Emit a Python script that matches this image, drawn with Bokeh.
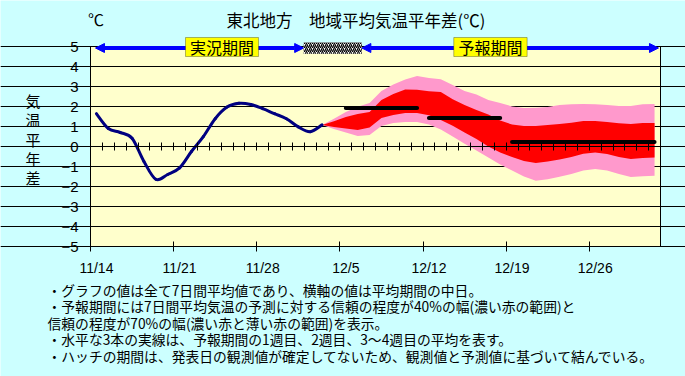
from bokeh.plotting import figure
from bokeh.models import (FixedTicker, LinearAxis, Label, BoxAnnotation, Arrow,
                          NormalHead, Range1d, Grid)
from bokeh.embed import file_html
from bokeh.resources import INLINE

# ---------------- data ----------------
label_days = [0, 7, 14, 21, 28, 35, 42]
date_labels = ["11/14", "11/21", "11/28", "12/5", "12/12", "12/19", "12/26"]

obs_days = list(range(0, 20))
obs_vals = [1.64, 0.90, 0.70, 0.41, -0.75, -1.64, -1.40, -1.07, -0.25, 0.49,
            1.39, 1.97, 2.16, 2.10, 1.89, 1.64, 1.39, 0.98, 0.74, 1.08]

fc_days = list(range(19, 48))
pink_up = [1.08, 1.39, 1.72, 1.99, 2.17, 2.78, 3.10, 3.35, 3.52, 3.42, 3.36, 3.08,
           2.78, 2.60, 2.32, 2.18, 2.00, 1.93, 1.94, 1.98, 2.07, 2.11, 2.12, 2.11,
           2.07, 2.03, 2.03, 2.11, 2.12]
red_up = [1.08, 1.26, 1.47, 1.62, 1.72, 2.32, 2.63, 2.85, 2.84, 2.76, 2.72, 2.36,
          2.08, 1.83, 1.60, 1.30, 1.10, 1.02, 1.02, 1.07, 1.12, 1.19, 1.28, 1.28,
          1.23, 1.16, 1.12, 1.18, 1.18]
red_lo = [1.08, 0.98, 0.90, 0.83, 0.95, 1.42, 1.58, 1.67, 1.68, 1.56, 1.32, 1.04,
          0.70, 0.38, 0.00, -0.30, -0.53, -0.73, -0.83, -0.75, -0.65, -0.52, -0.36,
          -0.30, -0.38, -0.52, -0.63, -0.57, -0.55]
pink_lo = [1.08, 0.87, 0.70, 0.53, 0.58, 1.03, 1.17, 1.23, 1.23, 1.10, 0.85, 0.50,
           0.14, -0.20, -0.55, -0.90, -1.20, -1.50, -1.71, -1.64, -1.51, -1.37, -1.20,
           -1.12, -1.20, -1.37, -1.53, -1.49, -1.46]

week_start = [21, 28, 35]
week_end = [27, 34, 47]
week_mean = [1.93, 1.43, 0.22]

y_ticks = list(range(-5, 6))
obs_period = (-0.08, 17.45)
hatch_period = (17.45, 22.35)
fc_period = (22.35, 47.33)

title_text = "東北地方　地域平均気温平年差(℃)"
unit_text = "℃"
ylabel_chars = list("気温平年差")
notes = [
    "・グラフの値は全て7日間平均値であり、横軸の値は平均期間の中日。",
    "・予報期間には7日間平均気温の予測に対する信頼の程度が40%の幅(濃い赤の範囲)と",
    "信頼の程度が70%の幅(濃い赤と薄い赤の範囲)を表示。",
    "・水平な3本の実線は、予報期間の1週目、2週目、3～4週目の平均を表す。",
    "・ハッチの期間は、発表日の観測値が確定してないため、観測値と予測値に基づいて結んでいる。",
]

# ---------------- figure ----------------
JP = "Noto Sans CJK JP"
n_days = 48
X0, X1 = -0.5, n_days - 0.5
Y0, Y1 = -5, 5
# the frame fills the whole canvas; the plot area is the box (X0..X1, Y0..Y1)
ppx = 570 / (X1 - X0)
ppy = 200 / (Y1 - Y0)
p = figure(width=685, height=376,
           x_range=Range1d(X0 - 90 / ppx, X1 + 25 / ppx),
           y_range=Range1d(Y0 - 130 / ppy, Y1 + 46 / ppy),
           output_backend="svg", toolbar_location=None,
           x_axis_location=None, y_axis_location=None, min_border=0)
p.background_fill_color = "#ccffff"
p.border_fill_color = "#ccffff"
p.outline_line_color = None
for r in list(p.center):
    if isinstance(r, Grid):
        r.visible = False

p.add_layout(BoxAnnotation(left=X0, right=X1, bottom=Y0, top=Y1,
                           fill_color="#ffffcc", fill_alpha=1, line_color=None,
                           level="underlay"))
p.add_layout(Grid(dimension=1, ticker=FixedTicker(ticks=y_ticks), bounds=(X0, X1),
                  grid_line_color="black", grid_line_width=1))

yaxis = LinearAxis(ticker=FixedTicker(ticks=y_ticks), fixed_location=X0,
                   bounds=(Y0, Y1))
yaxis.major_label_overrides = {t: (("−" + str(-t)) if t < 0 else str(t)) for t in y_ticks}
yaxis.major_tick_in = 0
yaxis.major_tick_out = 0
yaxis.minor_tick_line_color = None
yaxis.axis_line_color = "black"
yaxis.major_label_standoff = 12
yaxis.major_label_text_font = "Liberation Sans"
yaxis.major_label_text_font_size = "15px"
yaxis.major_label_text_color = "black"
p.add_layout(yaxis, "left")

raxis = LinearAxis(ticker=FixedTicker(ticks=[]), fixed_location=X1, bounds=(Y0, Y1))
raxis.major_tick_line_color = None
raxis.minor_tick_line_color = None
raxis.axis_line_color = "black"
p.add_layout(raxis, "right")

bounds = [d - 0.5 for d in label_days]
xt = LinearAxis(ticker=FixedTicker(ticks=bounds), fixed_location=Y0, bounds=(X0, X1))
xt.major_label_overrides = {b: "" for b in bounds}
xt.major_tick_in = 5
xt.major_tick_out = 5
xt.major_tick_line_color = "black"
xt.minor_tick_line_color = None
xt.axis_line_color = "black"
p.add_layout(xt, "below")

xl = LinearAxis(ticker=FixedTicker(ticks=label_days), fixed_location=Y0)
xl.major_label_overrides = {d: s for d, s in zip(label_days, date_labels)}
xl.axis_line_color = None
xl.major_tick_line_color = None
xl.minor_tick_line_color = None
xl.major_tick_out = 0
xl.major_tick_in = 0
xl.major_label_standoff = 13
xl.major_label_text_font = "Liberation Sans"
xl.major_label_text_font_size = "14px"
xl.major_label_text_color = "black"
p.add_layout(xl, "below")

# bands
p.varea(x=fc_days, y1=pink_lo, y2=pink_up, fill_color="#ff99cc")
p.varea(x=fc_days, y1=red_lo, y2=red_up, fill_color="#ff0000")

# observed line, drawn as a smoothed curve through the daily points
n = len(obs_days)
px = [obs_days[0]] + obs_days + [obs_days[-1]]
py = [obs_vals[0]] + obs_vals + [obs_vals[-1]]
bx0, by0, bx1, by1, c0x, c0y, c1x, c1y = ([] for _ in range(8))
for i in range(n - 1):
    j = i + 1
    bx0.append(px[j]); by0.append(py[j])
    bx1.append(px[j + 1]); by1.append(py[j + 1])
    c0x.append(px[j] + (px[j + 1] - px[j - 1]) / 6)
    c0y.append(py[j] + (py[j + 1] - py[j - 1]) / 6)
    c1x.append(px[j + 1] - (px[j + 2] - px[j]) / 6)
    c1y.append(py[j + 1] - (py[j + 2] - py[j]) / 6)
p.bezier(x0=bx0, y0=by0, x1=bx1, y1=by1, cx0=c0x, cy0=c0y, cx1=c1x, cy1=c1y,
         line_color="#000080", line_width=3, line_cap="round")

# weekly means
p.segment(x0=week_start, x1=week_end, y0=week_mean, y1=week_mean,
          line_color="black", line_width=4, line_cap="round")

# zero axis with a tick at every day boundary
day_bounds = [d + 0.5 for d in range(n_days - 1)]
zaxis = LinearAxis(ticker=FixedTicker(ticks=day_bounds), fixed_location=0,
                   bounds=(X0, X1))
zaxis.major_label_overrides = {b: "" for b in day_bounds}
zaxis.major_tick_in = 4
zaxis.major_tick_out = 4
zaxis.major_tick_line_color = "black"
zaxis.minor_tick_line_color = None
zaxis.axis_line_color = "black"
p.add_layout(zaxis, "below")

# ---------------- annotations ----------------
arrow_y = 4.925
blue = "#0000ff"
for (a, b) in (obs_period, fc_period):
    p.add_layout(Arrow(start=NormalHead(size=9, fill_color=blue, line_color=blue),
                       end=NormalHead(size=9, fill_color=blue, line_color=blue),
                       x_start=a, y_start=arrow_y, x_end=b, y_end=arrow_y,
                       line_color=blue, line_width=4))

p.add_layout(BoxAnnotation(left=hatch_period[0], right=hatch_period[1], top=5.2,
                           bottom=4.635, fill_color="white", fill_alpha=1,
                           hatch_pattern="/", hatch_color="black", hatch_scale=4,
                           hatch_weight=1.3, line_color=None))

for (l, r, txt) in ((7.5, 13.65, "実況期間"), (30.09, 36.27, "予報期間")):
    p.add_layout(BoxAnnotation(left=l, right=r, top=5.45, bottom=4.5,
                               fill_color="#ffff00", fill_alpha=1,
                               line_color="black", line_width=1))
    p.add_layout(Label(x=(l + r) / 2, y=4.975, text=txt, text_font=JP,
                       text_font_size="16px", text_align="center",
                       text_baseline="middle", text_color="black"))

p.add_layout(Label(x=21.85, y=6.325, text=title_text, text_font=JP,
                   text_font_size="16.5px", text_align="center",
                   text_baseline="middle", text_color="black"))
p.add_layout(Label(x=-0.04, y=6.375, text=unit_text, text_font=JP,
                   text_font_size="16px", text_align="center",
                   text_baseline="middle", text_color="black"))

for i, ch in enumerate(ylabel_chars):
    p.add_layout(Label(x=-5.34, y=(146 - (100 + 19.3 * i)) / 20, text=ch,
                       text_font=JP, text_font_size="15px", text_align="center",
                       text_baseline="middle", text_color="black"))

for i, line in enumerate(notes):
    p.add_layout(Label(x=-4.12, y=-7.15 - 0.825 * i, text=line, text_font=JP,
                       text_font_size="13.8px", text_align="left",
                       text_baseline="middle", text_color="black"))

open("out.html", "w").write(file_html(p, INLINE))
